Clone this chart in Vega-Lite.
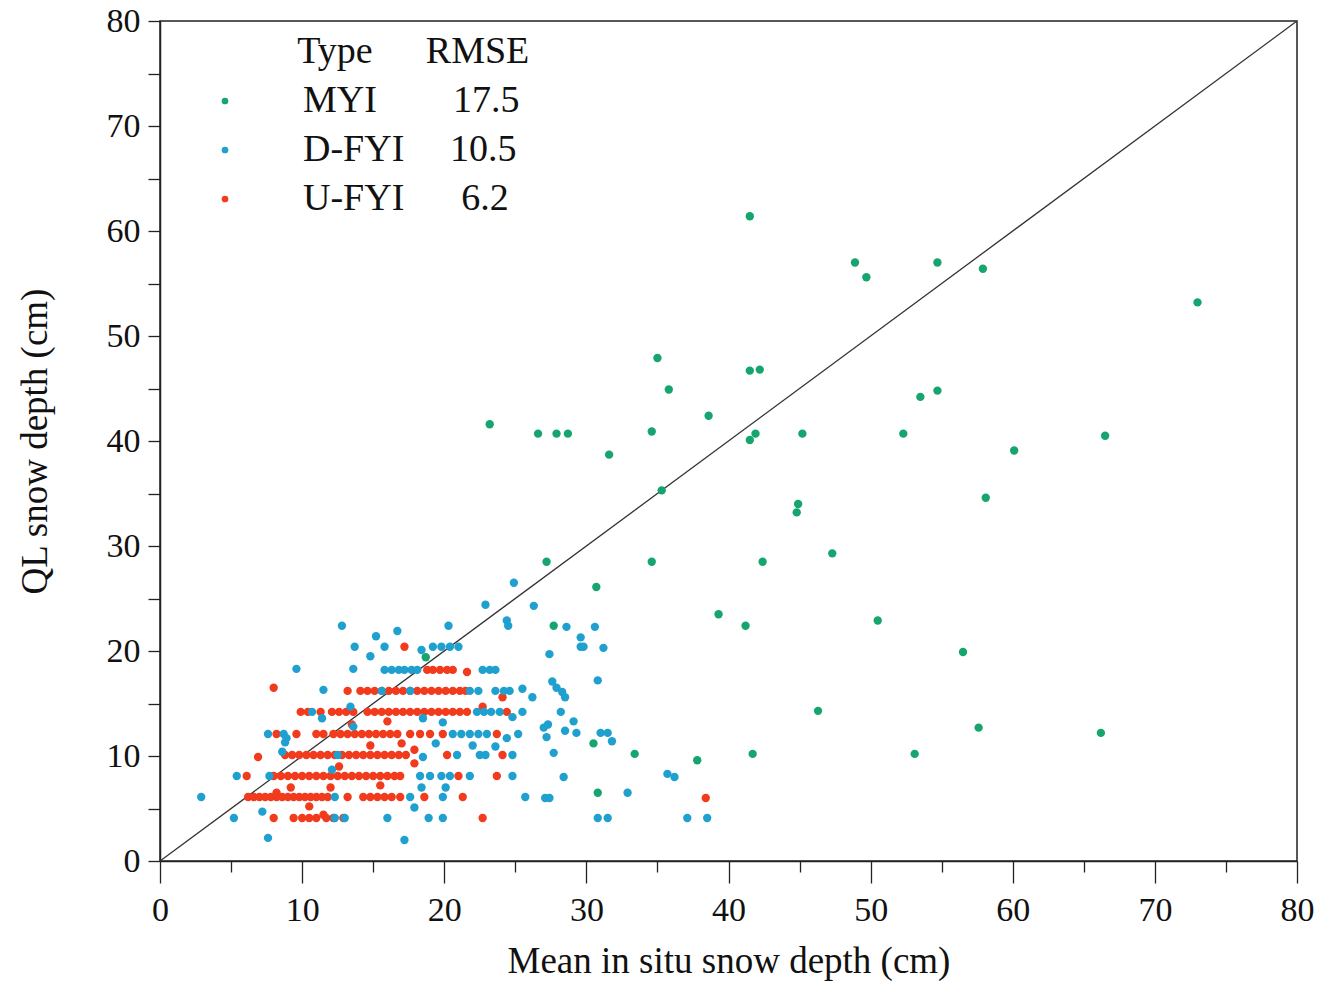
{
  "$schema": "https://vega.github.io/schema/vega-lite/v6.json",
  "width": 1137,
  "height": 840,
  "autosize": "none",
  "padding": {"left": 160, "top": 21, "right": 26, "bottom": 126},
  "background": "white",
  "config": {
    "font": "Liberation Serif",
    "view": {"stroke": "#222", "strokeWidth": 1.5},
    "axis": {"grid": false, "domainColor": "#222", "domainWidth": 1.5, "tickColor": "#222", "tickWidth": 1.3, "labelColor": "#111", "titleColor": "#111", "labelFont": "Liberation Serif", "titleFont": "Liberation Serif", "titleFontWeight": "normal"}
  },
  "datasets": {
    "pts": [
      {"t":"MYI","x":41.5,"y":61.4},{"t":"MYI","x":48.9,"y":57.0},{"t":"MYI","x":49.7,"y":55.6},{"t":"MYI","x":54.7,"y":57.0},{"t":"MYI","x":57.9,"y":56.4},{"t":"MYI","x":73.0,"y":53.2},
      {"t":"MYI","x":35.0,"y":47.9},{"t":"MYI","x":35.8,"y":44.9},{"t":"MYI","x":41.5,"y":46.7},{"t":"MYI","x":42.2,"y":46.8},{"t":"MYI","x":38.6,"y":42.4},{"t":"MYI","x":53.5,"y":44.2},{"t":"MYI","x":54.7,"y":44.8},
      {"t":"MYI","x":23.2,"y":41.6},{"t":"MYI","x":26.6,"y":40.7},{"t":"MYI","x":27.9,"y":40.7},{"t":"MYI","x":28.7,"y":40.7},{"t":"MYI","x":34.6,"y":40.9},{"t":"MYI","x":31.6,"y":38.7},
      {"t":"MYI","x":41.5,"y":40.1},{"t":"MYI","x":41.9,"y":40.7},{"t":"MYI","x":45.2,"y":40.7},{"t":"MYI","x":52.3,"y":40.7},{"t":"MYI","x":66.5,"y":40.5},{"t":"MYI","x":60.1,"y":39.1},
      {"t":"MYI","x":35.3,"y":35.3},{"t":"MYI","x":58.1,"y":34.6},{"t":"MYI","x":44.9,"y":34.0},{"t":"MYI","x":44.8,"y":33.2},{"t":"MYI","x":47.3,"y":29.3},
      {"t":"MYI","x":27.2,"y":28.5},{"t":"MYI","x":34.6,"y":28.5},{"t":"MYI","x":42.4,"y":28.5},{"t":"MYI","x":30.7,"y":26.1},{"t":"MYI","x":39.3,"y":23.5},{"t":"MYI","x":41.2,"y":22.4},{"t":"MYI","x":50.5,"y":22.9},{"t":"MYI","x":27.7,"y":22.4},
      {"t":"MYI","x":56.5,"y":19.9},{"t":"MYI","x":46.3,"y":14.3},{"t":"MYI","x":57.6,"y":12.7},{"t":"MYI","x":66.2,"y":12.2},{"t":"MYI","x":30.5,"y":11.2},{"t":"MYI","x":33.4,"y":10.2},{"t":"MYI","x":37.8,"y":9.6},{"t":"MYI","x":41.7,"y":10.2},{"t":"MYI","x":53.1,"y":10.2},{"t":"MYI","x":30.8,"y":6.5},{"t":"MYI","x":18.7,"y":19.4},

      {"t":"D-FYI","x":7.6,"y":2.2},{"t":"D-FYI","x":17.2,"y":2.0},
      {"t":"D-FYI","x":5.2,"y":4.1},{"t":"D-FYI","x":12.3,"y":4.1},{"t":"D-FYI","x":13.0,"y":4.1},{"t":"D-FYI","x":16.0,"y":4.1},{"t":"D-FYI","x":18.9,"y":4.1},{"t":"D-FYI","x":19.9,"y":4.1},{"t":"D-FYI","x":30.8,"y":4.1},{"t":"D-FYI","x":31.5,"y":4.1},{"t":"D-FYI","x":37.1,"y":4.1},{"t":"D-FYI","x":38.5,"y":4.1},{"t":"D-FYI","x":7.2,"y":4.7},{"t":"D-FYI","x":17.9,"y":5.1},
      {"t":"D-FYI","x":2.9,"y":6.1},{"t":"D-FYI","x":12.3,"y":6.1},{"t":"D-FYI","x":17.6,"y":6.1},{"t":"D-FYI","x":19.9,"y":6.1},{"t":"D-FYI","x":25.7,"y":6.1},{"t":"D-FYI","x":27.1,"y":6.0},{"t":"D-FYI","x":27.4,"y":6.0},{"t":"D-FYI","x":32.9,"y":6.5},{"t":"D-FYI","x":18.4,"y":7.0},{"t":"D-FYI","x":20.1,"y":7.0},
      {"t":"D-FYI","x":5.4,"y":8.1},{"t":"D-FYI","x":7.7,"y":8.1},{"t":"D-FYI","x":12.1,"y":8.7},{"t":"D-FYI","x":18.3,"y":8.1},{"t":"D-FYI","x":19.0,"y":8.1},{"t":"D-FYI","x":19.8,"y":8.1},{"t":"D-FYI","x":20.4,"y":8.1},{"t":"D-FYI","x":21.8,"y":8.1},{"t":"D-FYI","x":24.8,"y":8.1},{"t":"D-FYI","x":28.4,"y":8.0},{"t":"D-FYI","x":35.7,"y":8.3},{"t":"D-FYI","x":36.2,"y":8.0},
      {"t":"D-FYI","x":8.6,"y":10.4},{"t":"D-FYI","x":8.8,"y":11.3},{"t":"D-FYI","x":12.5,"y":10.1},{"t":"D-FYI","x":18.5,"y":9.9},{"t":"D-FYI","x":20.9,"y":10.1},{"t":"D-FYI","x":22.5,"y":10.1},{"t":"D-FYI","x":22.9,"y":10.1},{"t":"D-FYI","x":24.8,"y":10.1},{"t":"D-FYI","x":27.7,"y":10.3},{"t":"D-FYI","x":23.6,"y":10.9},{"t":"D-FYI","x":22.0,"y":11.0},{"t":"D-FYI","x":19.4,"y":11.2},
      {"t":"D-FYI","x":7.6,"y":12.1},{"t":"D-FYI","x":8.7,"y":12.1},{"t":"D-FYI","x":8.9,"y":11.7},{"t":"D-FYI","x":13.6,"y":12.8},{"t":"D-FYI","x":20.6,"y":12.1},{"t":"D-FYI","x":21.2,"y":12.1},{"t":"D-FYI","x":21.8,"y":12.1},{"t":"D-FYI","x":22.4,"y":12.1},{"t":"D-FYI","x":23.0,"y":12.1},{"t":"D-FYI","x":24.4,"y":11.7},{"t":"D-FYI","x":25.2,"y":12.1},{"t":"D-FYI","x":27.0,"y":12.7},{"t":"D-FYI","x":27.2,"y":11.8},{"t":"D-FYI","x":27.3,"y":13.0},{"t":"D-FYI","x":28.5,"y":12.4},{"t":"D-FYI","x":29.3,"y":12.2},{"t":"D-FYI","x":31.0,"y":12.2},{"t":"D-FYI","x":31.5,"y":12.2},{"t":"D-FYI","x":31.8,"y":11.4},
      {"t":"D-FYI","x":10.7,"y":14.2},{"t":"D-FYI","x":13.4,"y":14.7},{"t":"D-FYI","x":11.4,"y":13.6},{"t":"D-FYI","x":22.3,"y":14.2},{"t":"D-FYI","x":22.8,"y":14.2},{"t":"D-FYI","x":23.3,"y":14.2},{"t":"D-FYI","x":23.9,"y":14.2},{"t":"D-FYI","x":25.5,"y":14.2},{"t":"D-FYI","x":28.2,"y":14.2},{"t":"D-FYI","x":18.5,"y":13.6},{"t":"D-FYI","x":19.9,"y":13.2},{"t":"D-FYI","x":24.8,"y":13.7},{"t":"D-FYI","x":29.1,"y":13.3},
      {"t":"D-FYI","x":11.5,"y":16.3},{"t":"D-FYI","x":15.6,"y":16.2},{"t":"D-FYI","x":17.6,"y":16.2},{"t":"D-FYI","x":21.8,"y":16.2},{"t":"D-FYI","x":22.4,"y":16.2},{"t":"D-FYI","x":23.6,"y":16.2},{"t":"D-FYI","x":24.2,"y":16.2},{"t":"D-FYI","x":24.6,"y":16.2},{"t":"D-FYI","x":25.5,"y":16.4},{"t":"D-FYI","x":26.2,"y":15.6},{"t":"D-FYI","x":27.9,"y":16.5},{"t":"D-FYI","x":28.3,"y":16.1},{"t":"D-FYI","x":28.5,"y":15.6},{"t":"D-FYI","x":27.6,"y":17.1},{"t":"D-FYI","x":30.8,"y":17.2},
      {"t":"D-FYI","x":9.6,"y":18.3},{"t":"D-FYI","x":13.6,"y":18.3},{"t":"D-FYI","x":15.8,"y":18.2},{"t":"D-FYI","x":16.3,"y":18.2},{"t":"D-FYI","x":16.8,"y":18.2},{"t":"D-FYI","x":17.2,"y":18.2},{"t":"D-FYI","x":17.7,"y":18.2},{"t":"D-FYI","x":18.1,"y":18.2},{"t":"D-FYI","x":22.7,"y":18.2},{"t":"D-FYI","x":23.2,"y":18.2},{"t":"D-FYI","x":23.6,"y":18.2},
      {"t":"D-FYI","x":13.7,"y":20.4},{"t":"D-FYI","x":15.8,"y":20.4},{"t":"D-FYI","x":18.4,"y":20.1},{"t":"D-FYI","x":19.2,"y":20.4},{"t":"D-FYI","x":19.8,"y":20.4},{"t":"D-FYI","x":20.4,"y":20.4},{"t":"D-FYI","x":21.0,"y":20.4},{"t":"D-FYI","x":14.8,"y":19.5},{"t":"D-FYI","x":27.4,"y":19.7},{"t":"D-FYI","x":29.6,"y":20.4},{"t":"D-FYI","x":29.8,"y":20.4},{"t":"D-FYI","x":31.2,"y":20.3},{"t":"D-FYI","x":29.6,"y":21.3},{"t":"D-FYI","x":15.2,"y":21.4},{"t":"D-FYI","x":16.7,"y":21.9},
      {"t":"D-FYI","x":12.8,"y":22.4},{"t":"D-FYI","x":20.3,"y":22.4},{"t":"D-FYI","x":28.6,"y":22.3},{"t":"D-FYI","x":30.6,"y":22.3},{"t":"D-FYI","x":24.4,"y":22.9},{"t":"D-FYI","x":24.5,"y":22.4},
      {"t":"D-FYI","x":24.9,"y":26.5},{"t":"D-FYI","x":22.9,"y":24.4},{"t":"D-FYI","x":26.3,"y":24.3},

      {"t":"U-FYI","x":8.0,"y":4.1},{"t":"U-FYI","x":9.4,"y":4.1},{"t":"U-FYI","x":10.0,"y":4.1},{"t":"U-FYI","x":10.5,"y":4.1},{"t":"U-FYI","x":11.0,"y":4.1},{"t":"U-FYI","x":11.7,"y":4.1},{"t":"U-FYI","x":12.2,"y":4.1},{"t":"U-FYI","x":12.9,"y":4.1},{"t":"U-FYI","x":22.7,"y":4.1},{"t":"U-FYI","x":11.5,"y":4.4},
      {"t":"U-FYI","x":6.2,"y":6.1},{"t":"U-FYI","x":6.6,"y":6.1},{"t":"U-FYI","x":7.0,"y":6.1},{"t":"U-FYI","x":7.4,"y":6.1},{"t":"U-FYI","x":7.8,"y":6.1},{"t":"U-FYI","x":8.2,"y":6.1},{"t":"U-FYI","x":8.6,"y":6.1},{"t":"U-FYI","x":9.0,"y":6.1},{"t":"U-FYI","x":9.4,"y":6.1},{"t":"U-FYI","x":9.8,"y":6.1},{"t":"U-FYI","x":10.2,"y":6.1},{"t":"U-FYI","x":10.6,"y":6.1},{"t":"U-FYI","x":11.0,"y":6.1},{"t":"U-FYI","x":11.4,"y":6.1},{"t":"U-FYI","x":11.8,"y":6.1},{"t":"U-FYI","x":13.2,"y":6.1},{"t":"U-FYI","x":14.3,"y":6.1},{"t":"U-FYI","x":14.8,"y":6.1},{"t":"U-FYI","x":15.3,"y":6.1},{"t":"U-FYI","x":15.8,"y":6.1},{"t":"U-FYI","x":16.3,"y":6.1},{"t":"U-FYI","x":16.9,"y":6.1},{"t":"U-FYI","x":18.6,"y":6.1},{"t":"U-FYI","x":21.3,"y":6.1},{"t":"U-FYI","x":38.4,"y":6.0},{"t":"U-FYI","x":8.2,"y":6.5},{"t":"U-FYI","x":12.0,"y":7.0},{"t":"U-FYI","x":10.5,"y":5.2},{"t":"U-FYI","x":9.2,"y":7.0},{"t":"U-FYI","x":15.5,"y":7.2},
      {"t":"U-FYI","x":6.1,"y":8.1},{"t":"U-FYI","x":8.0,"y":8.1},{"t":"U-FYI","x":8.5,"y":8.1},{"t":"U-FYI","x":9.0,"y":8.1},{"t":"U-FYI","x":9.5,"y":8.1},{"t":"U-FYI","x":10.0,"y":8.1},{"t":"U-FYI","x":10.5,"y":8.1},{"t":"U-FYI","x":11.0,"y":8.1},{"t":"U-FYI","x":11.5,"y":8.1},{"t":"U-FYI","x":12.0,"y":8.1},{"t":"U-FYI","x":12.5,"y":8.1},{"t":"U-FYI","x":13.0,"y":8.1},{"t":"U-FYI","x":13.5,"y":8.1},{"t":"U-FYI","x":14.0,"y":8.1},{"t":"U-FYI","x":14.5,"y":8.1},{"t":"U-FYI","x":15.0,"y":8.1},{"t":"U-FYI","x":15.5,"y":8.1},{"t":"U-FYI","x":16.0,"y":8.1},{"t":"U-FYI","x":16.5,"y":8.1},{"t":"U-FYI","x":16.9,"y":8.1},{"t":"U-FYI","x":21.0,"y":8.1},{"t":"U-FYI","x":23.7,"y":8.1},{"t":"U-FYI","x":12.6,"y":9.0},
      {"t":"U-FYI","x":6.9,"y":9.9},{"t":"U-FYI","x":8.8,"y":10.1},{"t":"U-FYI","x":9.3,"y":10.1},{"t":"U-FYI","x":9.8,"y":10.1},{"t":"U-FYI","x":10.3,"y":10.1},{"t":"U-FYI","x":10.8,"y":10.1},{"t":"U-FYI","x":11.3,"y":10.1},{"t":"U-FYI","x":11.8,"y":10.1},{"t":"U-FYI","x":12.3,"y":10.1},{"t":"U-FYI","x":12.8,"y":10.1},{"t":"U-FYI","x":13.3,"y":10.1},{"t":"U-FYI","x":13.8,"y":10.1},{"t":"U-FYI","x":14.3,"y":10.1},{"t":"U-FYI","x":14.8,"y":10.1},{"t":"U-FYI","x":15.3,"y":10.1},{"t":"U-FYI","x":15.8,"y":10.1},{"t":"U-FYI","x":16.3,"y":10.1},{"t":"U-FYI","x":16.8,"y":10.1},{"t":"U-FYI","x":17.3,"y":10.1},{"t":"U-FYI","x":20.2,"y":10.1},{"t":"U-FYI","x":24.1,"y":10.1},{"t":"U-FYI","x":17.9,"y":10.6},{"t":"U-FYI","x":17.9,"y":9.3},{"t":"U-FYI","x":14.8,"y":11.0},{"t":"U-FYI","x":17.0,"y":11.2},
      {"t":"U-FYI","x":8.2,"y":12.1},{"t":"U-FYI","x":9.6,"y":12.1},{"t":"U-FYI","x":11.0,"y":12.1},{"t":"U-FYI","x":11.5,"y":12.1},{"t":"U-FYI","x":12.2,"y":12.1},{"t":"U-FYI","x":12.7,"y":12.1},{"t":"U-FYI","x":13.2,"y":12.1},{"t":"U-FYI","x":13.7,"y":12.1},{"t":"U-FYI","x":14.2,"y":12.1},{"t":"U-FYI","x":14.7,"y":12.1},{"t":"U-FYI","x":15.2,"y":12.1},{"t":"U-FYI","x":15.7,"y":12.1},{"t":"U-FYI","x":16.2,"y":12.1},{"t":"U-FYI","x":16.7,"y":12.1},{"t":"U-FYI","x":17.6,"y":12.1},{"t":"U-FYI","x":18.3,"y":12.1},{"t":"U-FYI","x":19.0,"y":12.1},{"t":"U-FYI","x":19.9,"y":12.1},{"t":"U-FYI","x":23.7,"y":12.1},{"t":"U-FYI","x":13.5,"y":13.0},{"t":"U-FYI","x":16.0,"y":13.3},
      {"t":"U-FYI","x":9.9,"y":14.2},{"t":"U-FYI","x":10.4,"y":14.2},{"t":"U-FYI","x":11.3,"y":14.2},{"t":"U-FYI","x":12.1,"y":14.2},{"t":"U-FYI","x":12.6,"y":14.2},{"t":"U-FYI","x":13.1,"y":14.2},{"t":"U-FYI","x":13.6,"y":14.2},{"t":"U-FYI","x":14.6,"y":14.2},{"t":"U-FYI","x":15.1,"y":14.2},{"t":"U-FYI","x":15.6,"y":14.2},{"t":"U-FYI","x":16.1,"y":14.2},{"t":"U-FYI","x":16.6,"y":14.2},{"t":"U-FYI","x":17.1,"y":14.2},{"t":"U-FYI","x":17.6,"y":14.2},{"t":"U-FYI","x":18.1,"y":14.2},{"t":"U-FYI","x":18.6,"y":14.2},{"t":"U-FYI","x":19.1,"y":14.2},{"t":"U-FYI","x":19.6,"y":14.2},{"t":"U-FYI","x":20.1,"y":14.2},{"t":"U-FYI","x":20.6,"y":14.2},{"t":"U-FYI","x":21.1,"y":14.2},{"t":"U-FYI","x":21.6,"y":14.2},{"t":"U-FYI","x":24.4,"y":14.2},{"t":"U-FYI","x":22.7,"y":14.7},
      {"t":"U-FYI","x":8.0,"y":16.5},{"t":"U-FYI","x":13.2,"y":16.2},{"t":"U-FYI","x":14.1,"y":16.2},{"t":"U-FYI","x":14.6,"y":16.2},{"t":"U-FYI","x":15.1,"y":16.2},{"t":"U-FYI","x":15.6,"y":16.2},{"t":"U-FYI","x":16.1,"y":16.2},{"t":"U-FYI","x":16.6,"y":16.2},{"t":"U-FYI","x":17.1,"y":16.2},{"t":"U-FYI","x":17.6,"y":16.2},{"t":"U-FYI","x":18.1,"y":16.2},{"t":"U-FYI","x":18.6,"y":16.2},{"t":"U-FYI","x":19.1,"y":16.2},{"t":"U-FYI","x":19.6,"y":16.2},{"t":"U-FYI","x":20.1,"y":16.2},{"t":"U-FYI","x":20.6,"y":16.2},{"t":"U-FYI","x":21.1,"y":16.2},{"t":"U-FYI","x":21.5,"y":16.2},{"t":"U-FYI","x":24.1,"y":15.6},
      {"t":"U-FYI","x":18.8,"y":18.2},{"t":"U-FYI","x":19.2,"y":18.2},{"t":"U-FYI","x":19.7,"y":18.2},{"t":"U-FYI","x":20.2,"y":18.2},{"t":"U-FYI","x":20.6,"y":18.2},{"t":"U-FYI","x":21.6,"y":18.0},{"t":"U-FYI","x":17.2,"y":20.4}
    ],
    "diag": [{"x": 0, "y": 0}, {"x": 80, "y": 80}]
  },
  "layer": [
    {
      "data": {"name": "diag"},
      "mark": {"type": "line", "color": "#333", "strokeWidth": 1.3, "clip": true},
      "encoding": {
        "x": {"field": "x", "type": "quantitative"},
        "y": {"field": "y", "type": "quantitative"}
      }
    },
    {
      "data": {"name": "pts"},
      "mark": {"type": "circle", "size": 70, "opacity": 1},
      "encoding": {
        "x": {
          "field": "x", "type": "quantitative",
          "scale": {"domain": [0, 80], "nice": false, "zero": false},
          "axis": {
            "title": "Mean in situ snow depth (cm)",
            "values": [0,5,10,15,20,25,30,35,40,45,50,55,60,65,70,75,80],
            "labelExpr": "datum.value % 10 === 0 ? datum.label : ''",
            "tickSize": {"condition": {"test": "datum.value % 10 === 0", "value": 22}, "value": 11},
            "labelPadding": 10,
            "labelFontSize": 34,
            "titleFontSize": 37,
            "titlePadding": 16,
            "labelFlush": false
          }
        },
        "y": {
          "field": "y", "type": "quantitative",
          "scale": {"domain": [0, 80], "nice": false, "zero": false},
          "axis": {
            "title": "QL snow depth (cm)",
            "values": [0,5,10,15,20,25,30,35,40,45,50,55,60,65,70,75,80],
            "labelExpr": "datum.value % 10 === 0 ? datum.label : ''",
            "tickSize": 12,
            "labelPadding": 8,
            "labelFontSize": 34,
            "titleFontSize": 37,
            "titlePadding": 52,
            "labelFlush": false
          }
        },
        "color": {
          "field": "t", "type": "nominal",
          "scale": {"domain": ["MYI", "D-FYI", "U-FYI"], "range": ["#17a56f", "#1fa0cf", "#f23a1d"]},
          "legend": {
            "orient": "none",
            "legendX": 46,
            "legendY": 12,
            "title": "\u200b\u2002\u2002\u2002\u2002\u2009\u2009Type\u2002\u2002\u2009\u2009RMSE",
            "titleFontSize": 38,
            "titleFont": "Liberation Serif",
            "titleFontWeight": "normal",
            "titleColor": "#111",
            "titlePadding": 11,
            "titleLimit": 600,
            "labelFontSize": 38,
            "labelFont": "Liberation Serif",
            "labelColor": "#111",
            "labelOffset": 59,
            "labelExpr": "datum.value === 'MYI' ? 'MYI\u2002\u2002\u2002\u200217.5' : datum.value === 'D-FYI' ? 'D-FYI\u2002\u2002\u200910.5' : 'U-FYI\u2002\u2002\u20026.2'",
            "symbolType": "circle",
            "symbolSize": 45,
            "symbolStrokeWidth": 0,
            "rowPadding": 11,
            "labelLimit": 600
          }
        },
        "order": {"field": "t", "sort": "descending"}
      }
    }
  ]
}
